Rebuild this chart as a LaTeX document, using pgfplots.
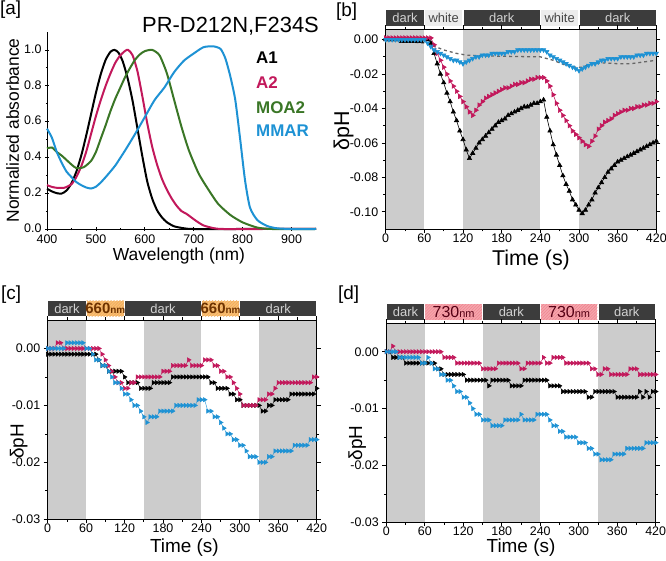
\documentclass[border=0pt]{standalone}
\usepackage{pgfplots}
\pgfplotsset{compat=1.18}
\usepackage{pgfplotstable}
\usepackage{fontspec}
\setmainfont{Liberation Sans}
\usetikzlibrary{patterns}

\definecolor{cmag}{RGB}{194,24,91}
\definecolor{cblu}{RGB}{30,146,212}
\definecolor{cgrn}{RGB}{58,118,38}
\definecolor{bandgray}{RGB}{204,204,204}
\definecolor{hdark}{RGB}{60,60,60}
\definecolor{htext}{RGB}{210,210,210}
\definecolor{hwhite}{RGB}{236,236,236}
\definecolor{hwtext}{RGB}{70,70,70}
\definecolor{horange}{RGB}{249,192,118}
\definecolor{horangeL}{RGB}{240,165,80}
\definecolor{hbrown}{RGB}{110,50,0}
\definecolor{hpink}{RGB}{246,165,172}
\definecolor{hpinkL}{RGB}{236,128,140}
\definecolor{hmaroon}{RGB}{85,0,20}

\newcommand\tickfont{\fontsize{12.5}{14}\selectfont}
\newcommand\hdrfont{\fontsize{13}{14}\selectfont}

% #1 start (rel), #2 end (rel), #3 centre (rel), #4 fill options, #5 text
\newcommand\hseg[5]{%
  \fill[#4] ([xshift=0.6bp,yshift=3.5bp]rel axis cs:#1,1) rectangle ([xshift=-0.6bp,yshift=19bp]rel axis cs:#2,1);
  \node[inner sep=0pt,anchor=center] at ([yshift=11.3bp]rel axis cs:#3,1) {#5};
}
\newcommand\dk{\textcolor{htext}{\hdrfont dark}}
\newcommand\wh{\textcolor{hwtext}{\hdrfont white}}
\newcommand\sixsixty{\textcolor{hbrown}{\bfseries\fontsize{15}{16}\selectfont 660\fontsize{10}{11}\selectfont nm}}
\newcommand\sevthirty{\textcolor{hmaroon}{\fontsize{16}{17}\selectfont 730\fontsize{11}{12}\selectfont nm}}

\pgfplotsset{
  base/.style={scale only axis, tick align=outside,
    axis line style={line width=0.8bp}, every tick/.style={line width=0.7bp, black},
    major tick length=4bp, minor tick length=2.5bp,
    tick label style={font=\tickfont},
    scaled ticks=false,
    /pgf/number format/assume math mode=true},
  ts/.style={base, xmin=0, xmax=420, xtick={0,60,...,420}, minor x tick num=1,
    xticklabel style={yshift=3bp},
    tick pos=both, axis on top, clip=false,
    xlabel={Time (s)}, ylabel={δpH},
    yticklabel style={/pgf/number format/fixed, /pgf/number format/fixed zerofill, /pgf/number format/precision=2}},
}

\pgfplotstableread{
t k m c
0 0.000 0.001 0.000
5 0.000 0.001 0.000
10 0.000 0.001 0.000
15 0.000 0.001 0.000
20 0.000 0.001 0.000
25 -0.001 0.001 0.000
30 -0.001 0.001 0.000
35 -0.001 0.001 0.000
40 -0.001 0.001 0.000
45 -0.001 0.001 0.000
50 -0.001 0.001 0.000
55 -0.001 0.001 0.000
60 0.000 0.001 0.000
65 0.000 0.001 -0.002
70 -0.002 0.001 -0.004
75 -0.008 -0.003 -0.006
80 -0.014 -0.008 -0.007
85 -0.020 -0.012 -0.008
90 -0.025 -0.016 -0.009
95 -0.031 -0.020 -0.010
100 -0.036 -0.024 -0.011
105 -0.042 -0.027 -0.012
110 -0.047 -0.030 -0.012
115 -0.053 -0.033 -0.013
120 -0.058 -0.036 -0.014
125 -0.064 -0.039 -0.013
130 -0.069 -0.042 -0.012
135 -0.066 -0.044 -0.011
140 -0.063 -0.041 -0.010
145 -0.060 -0.038 -0.010
150 -0.058 -0.036 -0.009
155 -0.056 -0.034 -0.009
160 -0.054 -0.033 -0.009
165 -0.052 -0.032 -0.008
170 -0.050 -0.031 -0.008
175 -0.048 -0.030 -0.008
180 -0.047 -0.029 -0.008
185 -0.046 -0.028 -0.008
190 -0.044 -0.028 -0.007
195 -0.043 -0.027 -0.007
200 -0.042 -0.026 -0.007
205 -0.041 -0.026 -0.006
210 -0.040 -0.025 -0.006
215 -0.039 -0.025 -0.006
220 -0.039 -0.024 -0.006
225 -0.038 -0.023 -0.006
230 -0.037 -0.023 -0.006
235 -0.037 -0.022 -0.006
240 -0.036 -0.022 -0.006
245 -0.035 -0.022 -0.006
250 -0.045 -0.024 -0.007
255 -0.053 -0.027 -0.009
260 -0.061 -0.032 -0.010
265 -0.067 -0.037 -0.011
270 -0.073 -0.041 -0.012
275 -0.079 -0.044 -0.013
280 -0.084 -0.047 -0.014
285 -0.088 -0.050 -0.015
290 -0.093 -0.053 -0.016
295 -0.096 -0.055 -0.017
300 -0.099 -0.057 -0.018
305 -0.101 -0.059 -0.017
310 -0.099 -0.061 -0.016
315 -0.096 -0.062 -0.015
320 -0.093 -0.059 -0.014
325 -0.089 -0.056 -0.014
330 -0.086 -0.052 -0.013
335 -0.083 -0.050 -0.012
340 -0.080 -0.048 -0.012
345 -0.077 -0.047 -0.011
350 -0.075 -0.046 -0.011
355 -0.073 -0.044 -0.011
360 -0.071 -0.043 -0.011
365 -0.070 -0.042 -0.010
370 -0.069 -0.041 -0.010
375 -0.068 -0.041 -0.010
380 -0.067 -0.040 -0.010
385 -0.066 -0.040 -0.010
390 -0.065 -0.039 -0.009
395 -0.064 -0.039 -0.009
400 -0.063 -0.038 -0.009
405 -0.062 -0.038 -0.008
410 -0.061 -0.037 -0.008
415 -0.060 -0.037 -0.008
420 -0.059 -0.036 -0.008
}\tabB

\pgfplotstableread{
t k m c
0 -0.001 0.000 0.000
5 -0.001 0.000 0.000
10 -0.001 0.000 0.000
15 -0.001 0.001 0.000
20 -0.001 0.001 0.000
25 -0.001 0.000 0.000
30 -0.001 0.000 0.001
35 -0.001 0.000 0.001
40 -0.001 0.000 0.001
45 -0.001 0.000 0.001
50 -0.001 0.000 0.001
55 -0.001 0.000 0.001
60 -0.001 0.000 0.000
65 -0.001 0.000 0.000
70 -0.001 0.000 -0.001
75 -0.001 0.000 -0.002
80 -0.002 0.000 -0.002
85 -0.003 -0.001 -0.003
90 -0.003 -0.002 -0.003
95 -0.004 -0.003 -0.004
100 -0.004 -0.004 -0.005
105 -0.004 -0.005 -0.006
110 -0.004 -0.006 -0.006
115 -0.004 -0.006 -0.007
120 -0.005 -0.007 -0.008
125 -0.006 -0.007 -0.008
130 -0.006 -0.006 -0.009
135 -0.006 -0.006 -0.010
140 -0.006 -0.005 -0.010
145 -0.007 -0.005 -0.011
150 -0.007 -0.005 -0.012
155 -0.007 -0.005 -0.013
160 -0.007 -0.005 -0.012
165 -0.006 -0.005 -0.012
170 -0.006 -0.005 -0.012
175 -0.006 -0.005 -0.011
180 -0.006 -0.004 -0.011
185 -0.006 -0.004 -0.011
190 -0.006 -0.004 -0.011
195 -0.005 -0.003 -0.011
200 -0.005 -0.003 -0.010
205 -0.005 -0.003 -0.010
210 -0.005 -0.003 -0.010
215 -0.005 -0.003 -0.010
220 -0.005 -0.002 -0.010
225 -0.005 -0.003 -0.010
230 -0.005 -0.003 -0.010
235 -0.005 -0.003 -0.009
240 -0.005 -0.003 -0.009
245 -0.005 -0.002 -0.009
250 -0.005 -0.002 -0.011
255 -0.006 -0.002 -0.011
260 -0.006 -0.003 -0.012
265 -0.007 -0.003 -0.012
270 -0.007 -0.004 -0.013
275 -0.007 -0.004 -0.014
280 -0.007 -0.005 -0.015
285 -0.008 -0.005 -0.015
290 -0.008 -0.006 -0.016
295 -0.009 -0.007 -0.016
300 -0.009 -0.008 -0.017
305 -0.010 -0.010 -0.017
310 -0.010 -0.010 -0.018
315 -0.010 -0.010 -0.019
320 -0.010 -0.010 -0.019
325 -0.010 -0.010 -0.019
330 -0.010 -0.009 -0.020
335 -0.011 -0.009 -0.020
340 -0.011 -0.009 -0.020
345 -0.010 -0.008 -0.019
350 -0.010 -0.008 -0.019
355 -0.009 -0.007 -0.018
360 -0.009 -0.006 -0.018
365 -0.009 -0.006 -0.018
370 -0.009 -0.006 -0.018
375 -0.009 -0.006 -0.018
380 -0.008 -0.006 -0.018
385 -0.008 -0.006 -0.017
390 -0.008 -0.006 -0.017
395 -0.008 -0.006 -0.017
400 -0.008 -0.006 -0.017
405 -0.008 -0.006 -0.017
410 -0.008 -0.006 -0.016
415 -0.008 -0.005 -0.016
420 -0.007 -0.005 -0.016
}\tabC

\pgfplotstableread{
t k m c
0 0.000 0.000 0.000
5 0.000 0.000 0.000
10 -0.001 0.001 0.000
15 -0.001 0.000 0.000
20 -0.001 0.000 -0.001
25 -0.001 0.000 -0.001
30 -0.002 0.000 -0.001
35 -0.002 0.000 -0.001
40 -0.002 0.000 -0.001
45 -0.002 0.000 -0.001
50 -0.002 0.000 -0.001
55 -0.002 0.000 -0.002
60 -0.002 0.000 -0.002
65 -0.002 0.000 -0.001
70 -0.002 0.000 -0.002
75 -0.002 0.000 -0.003
80 -0.003 0.000 -0.003
85 -0.003 0.000 -0.004
90 -0.004 -0.001 -0.004
95 -0.004 -0.001 -0.005
100 -0.004 -0.001 -0.005
105 -0.004 -0.001 -0.006
110 -0.004 -0.002 -0.007
115 -0.004 -0.002 -0.007
120 -0.004 -0.002 -0.008
125 -0.005 -0.002 -0.008
130 -0.005 -0.002 -0.009
135 -0.005 -0.002 -0.010
140 -0.005 -0.002 -0.011
145 -0.005 -0.002 -0.011
150 -0.005 -0.003 -0.012
155 -0.005 -0.003 -0.012
160 -0.006 -0.003 -0.012
165 -0.005 -0.003 -0.013
170 -0.005 -0.003 -0.013
175 -0.005 -0.002 -0.013
180 -0.005 -0.002 -0.013
185 -0.005 -0.002 -0.012
190 -0.005 -0.002 -0.012
195 -0.006 -0.002 -0.012
200 -0.006 -0.002 -0.012
205 -0.006 -0.002 -0.012
210 -0.006 -0.003 -0.011
215 -0.005 -0.003 -0.012
220 -0.005 -0.002 -0.012
225 -0.005 -0.002 -0.012
230 -0.005 -0.002 -0.012
235 -0.005 -0.002 -0.011
240 -0.005 -0.002 -0.011
245 -0.005 -0.001 -0.011
250 -0.005 -0.002 -0.011
255 -0.006 -0.002 -0.012
260 -0.006 -0.001 -0.013
265 -0.006 -0.001 -0.013
270 -0.006 -0.001 -0.014
275 -0.007 -0.001 -0.014
280 -0.007 -0.002 -0.015
285 -0.007 -0.002 -0.015
290 -0.007 -0.002 -0.015
295 -0.007 -0.002 -0.015
300 -0.007 -0.002 -0.016
305 -0.007 -0.002 -0.016
310 -0.007 -0.002 -0.016
315 -0.008 -0.002 -0.017
320 -0.008 -0.003 -0.017
325 -0.007 -0.003 -0.018
330 -0.007 -0.004 -0.018
335 -0.007 -0.004 -0.019
340 -0.007 -0.003 -0.019
345 -0.007 -0.003 -0.019
350 -0.007 -0.004 -0.019
355 -0.007 -0.004 -0.018
360 -0.008 -0.004 -0.018
365 -0.008 -0.004 -0.018
370 -0.008 -0.004 -0.018
375 -0.008 -0.004 -0.017
380 -0.008 -0.003 -0.017
385 -0.008 -0.003 -0.017
390 -0.008 -0.003 -0.017
395 -0.007 -0.004 -0.017
400 -0.008 -0.004 -0.017
405 -0.007 -0.004 -0.016
410 -0.008 -0.004 -0.016
415 -0.007 -0.004 -0.016
420 -0.007 -0.004 -0.016
}\tabD

\begin{document}
\begin{tikzpicture}
\useasboundingbox (0,0) rectangle (666bp,561bp);

% ---------------- panel a ----------------
\begin{axis}[base, at={(47bp,332bp)}, anchor=south west, width=269bp, height=197bp,
  axis lines=left, axis line style={-, line width=0.8bp},
  xmin=400, xmax=950, ymin=0, ymax=1.1,
  xtick={400,500,...,900}, minor x tick num=1,
  ytick={0,0.2,...,1.0}, minor y tick num=1,
  xticklabel style={yshift=0bp},
  yticklabel style={/pgf/number format/fixed, /pgf/number format/fixed zerofill, /pgf/number format/precision=1, yshift=1bp},
  xlabel={Wavelength (nm)}, ylabel={Normalized absorbance},
  label style={font=\fontsize{17.5}{19}\selectfont},
  xlabel style={at={(axis description cs:0.49,-0.135)}, anchor=center},
  ylabel style={at={(axis description cs:-0.128,0.5)}, anchor=center},
  clip=false]
\addplot[black, line width=2bp, smooth, tension=0.4] coordinates {(400,0.225)(410,0.210)(420,0.200)(430,0.198)(440,0.215)(450,0.255)(460,0.320)(470,0.410)(480,0.520)(490,0.640)(500,0.760)(510,0.865)(520,0.945)(530,0.990)(538,1.000)(546,0.985)(555,0.935)(565,0.840)(575,0.715)(585,0.560)(595,0.405)(605,0.265)(615,0.170)(625,0.105)(635,0.065)(645,0.038)(660,0.015)(680,0.004)(700,0)(800,0)(950,0)};
\addplot[cmag, line width=2bp, smooth, tension=0.4] coordinates {(400,0.245)(410,0.235)(420,0.230)(435,0.230)(450,0.250)(460,0.290)(470,0.350)(480,0.430)(490,0.530)(500,0.630)(510,0.720)(520,0.800)(530,0.870)(540,0.930)(550,0.970)(560,0.995)(566,1.000)(575,0.970)(585,0.880)(595,0.740)(605,0.590)(615,0.460)(625,0.360)(635,0.280)(645,0.220)(655,0.170)(665,0.130)(675,0.100)(685,0.085)(695,0.065)(705,0.045)(720,0.020)(740,0.005)(760,0)(850,0)(950,0)};
\addplot[cgrn, line width=2bp, smooth, tension=0.4] coordinates {(400,0.450)(410,0.455)(420,0.430)(430,0.410)(440,0.385)(450,0.360)(460,0.340)(475,0.345)(490,0.380)(500,0.430)(510,0.505)(520,0.580)(530,0.660)(540,0.730)(550,0.790)(560,0.850)(570,0.900)(580,0.945)(590,0.975)(600,0.993)(615,1.000)(630,0.970)(645,0.870)(660,0.720)(675,0.570)(690,0.440)(710,0.310)(730,0.220)(750,0.140)(775,0.078)(800,0.037)(830,0.008)(860,0)(950,0)};
\addplot[cblu, line width=2bp, smooth, tension=0.4] coordinates {(400,0.560)(410,0.510)(420,0.430)(430,0.370)(440,0.320)(450,0.290)(460,0.262)(470,0.245)(480,0.232)(490,0.226)(500,0.236)(510,0.260)(520,0.290)(530,0.322)(540,0.356)(560,0.440)(580,0.530)(600,0.625)(620,0.720)(640,0.790)(660,0.876)(680,0.940)(700,0.980)(720,1.015)(740,1.020)(755,1.005)(765,0.950)(775,0.850)(785,0.720)(795,0.500)(805,0.270)(815,0.120)(830,0.050)(850,0.017)(870,0.004)(900,0)(950,0)};
\end{axis}
\node[anchor=base west, inner sep=0pt, font=\fontsize{22}{24}\selectfont] at (142bp,528bp) {PR-D212N,F234S};
\node[anchor=base west, inner sep=0pt, font=\bfseries\fontsize{17}{19}\selectfont, text=black] at (256bp,497bp) {A1};
\node[anchor=base west, inner sep=0pt, font=\bfseries\fontsize{17}{19}\selectfont, text=cmag] at (256bp,472.5bp) {A2};
\node[anchor=base west, inner sep=0pt, font=\bfseries\fontsize{17}{19}\selectfont, text=cgrn] at (256bp,447.5bp) {MOA2};
\node[anchor=base west, inner sep=0pt, font=\bfseries\fontsize{17}{19}\selectfont, text=cblu] at (256bp,424bp) {MMAR};
\node[anchor=north west, inner sep=0pt, font=\fontsize{19}{21}\selectfont] at (0bp,560bp) {[a]};

% ---------------- panel b ----------------
\begin{axis}[ts, at={(385.7bp,332bp)}, anchor=south west, width=270.6bp, height=199.7bp,
  ymin=-0.11, ymax=0.006, ytick={-0.10,-0.08,...,0.0}, minor y tick num=1,
  label style={font=\fontsize{21.5}{23}\selectfont},
  xlabel style={at={(axis description cs:0.537,-0.14)}, anchor=center, yshift=-3bp},
  ylabel style={at={(axis description cs:-0.156,0.49)}, anchor=center}]
\fill[bandgray] (axis cs:0,-0.11) rectangle (axis cs:60,0.006);
\fill[bandgray] (axis cs:120,-0.11) rectangle (axis cs:240,0.006);
\fill[bandgray] (axis cs:300,-0.11) rectangle (axis cs:420,0.006);
\hseg{0}{0.142857}{0.071429}{hdark}{\dk}
\hseg{0.142857}{0.285714}{0.214286}{hwhite}{\wh}
\hseg{0.285714}{0.571429}{0.428571}{hdark}{\dk}
\hseg{0.571429}{0.714286}{0.642857}{hwhite}{\wh}
\hseg{0.714286}{1}{0.857143}{hdark}{\dk}
\addplot[black, line width=0.6bp, mark=triangle*, mark size=2.5bp, mark options={solid}] table[x=t,y=k] {\tabB};
\addplot[cmag, line width=0.6bp, mark=triangle*, mark size=2.5bp, mark options={solid, rotate=-90}] table[x=t,y=m] {\tabB};
\addplot[cblu, line width=0.6bp, mark=triangle*, mark size=2.5bp, mark options={solid, rotate=180}] table[x=t,y=c] {\tabB};
\addplot[black!60, line width=1.3bp, dashed] coordinates {(0,0)(20,0)(40,-0.0015)(60,-0.002)(70,-0.003)(90,-0.006)(110,-0.008)(125,-0.009)(160,-0.0095)(200,-0.0098)(240,-0.010)(260,-0.012)(280,-0.015)(295,-0.016)(305,-0.016)(320,-0.014)(340,-0.0135)(360,-0.014)(380,-0.014)(400,-0.013)(420,-0.012)};
\end{axis}
\node[anchor=north west, inner sep=0pt, font=\fontsize{19}{21}\selectfont] at (336bp,558bp) {[b]};

% ---------------- panel c ----------------
\begin{axis}[ts, at={(47.7bp,41.7bp)}, anchor=south west, width=269bp, height=199.3bp,
  ymin=-0.03, ymax=0.005, ytick={-0.03,-0.02,-0.01,0}, minor y tick num=1,
  label style={font=\fontsize{19}{21}\selectfont},
  xlabel style={at={(axis description cs:0.508,-0.134)}, anchor=center, yshift=-2bp},
  ylabel style={at={(axis description cs:-0.108,0.39)}, anchor=center}]
\fill[bandgray] (axis cs:0,-0.03) rectangle (axis cs:60,0.005);
\fill[bandgray] (axis cs:150,-0.03) rectangle (axis cs:240,0.005);
\fill[bandgray] (axis cs:330,-0.03) rectangle (axis cs:420,0.005);
\hseg{0}{0.142857}{0.071429}{hdark}{\dk}
\hseg{0.142857}{0.285714}{0.214286}{horange, postaction={pattern=north east lines, pattern color=horangeL}}{\sixsixty}
\hseg{0.285714}{0.571429}{0.428571}{hdark}{\dk}
\hseg{0.571429}{0.714286}{0.642857}{horange, postaction={pattern=north east lines, pattern color=horangeL}}{\sixsixty}
\hseg{0.714286}{1}{0.857143}{hdark}{\dk}
\addplot[black, line width=0.4bp, mark=triangle*, mark size=2.5bp, mark options={solid, rotate=-90}] table[x=t,y=k] {\tabC};
\addplot[cmag, line width=0.4bp, mark=triangle*, mark size=2.5bp, mark options={solid, rotate=-90}] table[x=t,y=m] {\tabC};
\addplot[cblu, line width=0.4bp, mark=triangle*, mark size=2.5bp, mark options={solid, rotate=-90}] table[x=t,y=c] {\tabC};
\end{axis}
\node[anchor=north west, inner sep=0pt, font=\fontsize{19}{21}\selectfont] at (1bp,275bp) {[c]};

% ---------------- panel d ----------------
\begin{axis}[ts, at={(386.3bp,38.7bp)}, anchor=south west, width=269.4bp, height=199bp,
  ymin=-0.03, ymax=0.005, ytick={-0.03,-0.02,-0.01,0}, minor y tick num=1,
  label style={font=\fontsize{19}{21}\selectfont},
  xlabel style={at={(axis description cs:0.5,-0.122)}, anchor=center, yshift=-1bp},
  ylabel style={at={(axis description cs:-0.108,0.40)}, anchor=center}]
\fill[bandgray] (axis cs:0,-0.03) rectangle (axis cs:60,0.005);
\fill[bandgray] (axis cs:150,-0.03) rectangle (axis cs:240,0.005);
\fill[bandgray] (axis cs:330,-0.03) rectangle (axis cs:420,0.005);
\hseg{0}{0.142857}{0.071429}{hdark}{\dk}
\hseg{0.142857}{0.357143}{0.25}{hpink, postaction={pattern=north east lines, pattern color=hpinkL}}{\sevthirty}
\hseg{0.357143}{0.571429}{0.464286}{hdark}{\dk}
\hseg{0.571429}{0.785714}{0.678571}{hpink, postaction={pattern=north east lines, pattern color=hpinkL}}{\sevthirty}
\hseg{0.785714}{1}{0.892857}{hdark}{\dk}
\addplot[black, line width=0.4bp, mark=triangle*, mark size=2.5bp, mark options={solid, rotate=-90}] table[x=t,y=k] {\tabD};
\addplot[cmag, line width=0.4bp, mark=triangle*, mark size=2.5bp, mark options={solid, rotate=-90}] table[x=t,y=m] {\tabD};
\addplot[cblu, line width=0.4bp, mark=triangle*, mark size=2.5bp, mark options={solid, rotate=-90}] table[x=t,y=c] {\tabD};
\end{axis}
\node[anchor=north west, inner sep=0pt, font=\fontsize{19}{21}\selectfont] at (338bp,275bp) {[d]};
\end{tikzpicture}
\end{document}
